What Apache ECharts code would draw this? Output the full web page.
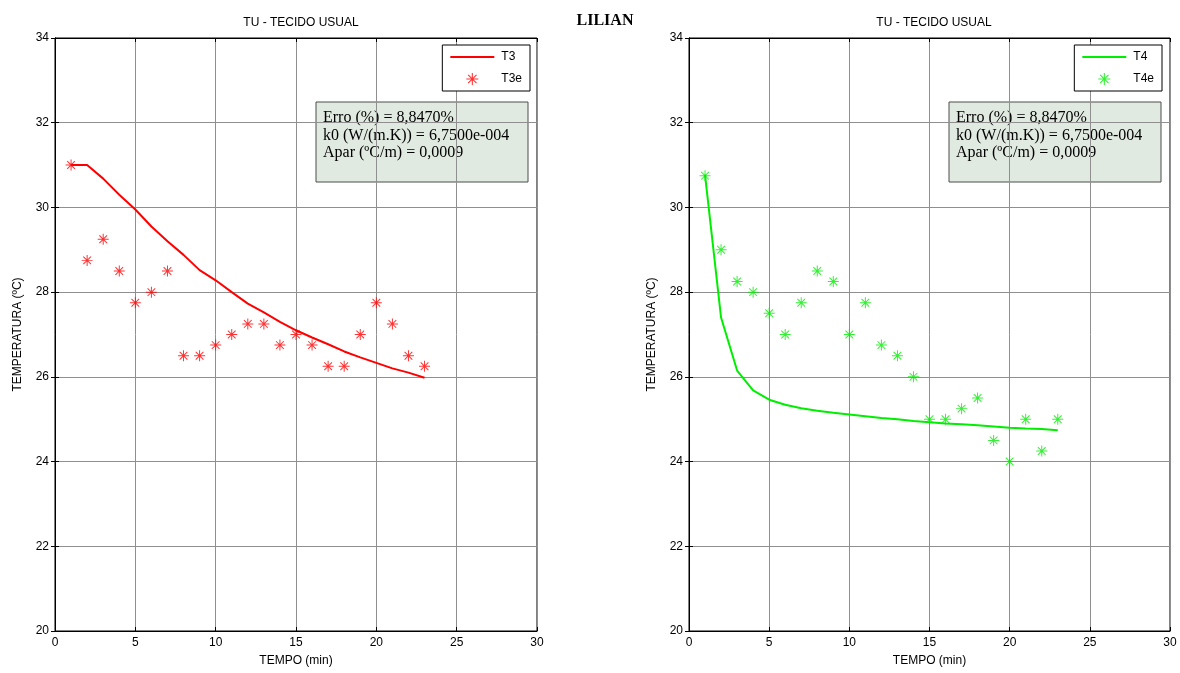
<!DOCTYPE html>
<html>
<head>
<meta charset="utf-8">
<title>LILIAN</title>
<script src="https://cdn.jsdelivr.net/npm/echarts@6/dist/echarts.min.js"></script>
<style>
html, body {
  margin: 0;
  padding: 0;
  background: #fff;
}
#chart {
  width: 1180px;
  height: 673px;
}
</style>
</head>
<body>
<div id="chart"></div>
<script>
// tempo (min)
var tempo = [1, 2, 3, 4, 5, 6, 7, 8, 9, 10, 11, 12, 13, 14, 15, 16, 17, 18, 19, 20, 21, 22, 23];

// esquerda - T3 (modelo) e T3e (experimental)
var t3 = [31.0, 31.0, 30.68, 30.3, 29.95, 29.55, 29.2, 28.88, 28.52, 28.28, 28.0, 27.73,
  27.52, 27.3, 27.1, 26.93, 26.77, 26.6, 26.46, 26.33, 26.2, 26.1, 25.98];
var t3e = [31.0, 28.75, 29.25, 28.5, 27.75, 28.0, 28.5, 26.5, 26.5, 26.75, 27.0, 27.25,
  27.25, 26.75, 27.0, 26.75, 26.25, 26.25, 27.0, 27.75, 27.25, 26.5, 26.25];

// direita - T4 (modelo) e T4e (experimental)
var t4 = [30.77, 27.4, 26.15, 25.68, 25.46, 25.34, 25.26, 25.2, 25.15, 25.11, 25.07, 25.03,
  25.0, 24.96, 24.93, 24.9, 24.88, 24.86, 24.83, 24.8, 24.78, 24.77, 24.74];
var t4e = [30.75, 29.0, 28.25, 28.0, 27.5, 27.0, 27.75, 28.5, 28.25, 27.0, 27.75, 26.75,
  26.5, 26.0, 25.0, 25.0, 25.25, 25.5, 24.5, 24.0, 25.0, 24.25, 25.0];

var infoLines = [
  'Erro (%) = 8,8470%',
  'k0 (W/(m.K)) = 6,7500e-004',
  'Apar (ºC/m) = 0,0009'
];

// asterisco (+ e x)
var asterisk = 'path://M-1,-0.09L1,-0.09L1,0.09L-1,0.09Z' +
  'M-0.09,-1L0.09,-1L0.09,1L-0.09,1Z' +
  'M-0.636,-0.764L0.764,0.636L0.636,0.764L-0.764,-0.636Z' +
  'M-0.764,0.636L0.636,-0.764L0.764,-0.636L-0.636,0.764Z';
// traço da legenda
var legendLine = 'path://M0,0L44,0L44,2L0,2Z';

function pairs (ys) {
  var out = [];
  for (var i = 0; i < tempo.length; i++) {
    out.push([tempo[i], ys[i]]);
  }
  return out;
}

var chart = echarts.init(document.getElementById('chart'));

var font = 'Liberation Sans, Arial, sans-serif';
var serif = 'Liberation Serif, Times New Roman, serif';

function mainX (gi) {
  return {
    type: 'value',
    gridIndex: gi,
    min: 0,
    max: 30,
    interval: 5,
    name: 'TEMPO (min)',
    nameLocation: 'middle',
    nameGap: 24,
    nameTextStyle: { color: '#000', fontFamily: font, fontSize: 12 },
    axisLine: { lineStyle: { color: '#000', width: 1 } },
    axisTick: { inside: true, length: 4, lineStyle: { color: '#000' } },
    axisLabel: { color: '#000', fontFamily: font, fontSize: 12, margin: 6 },
    splitLine: { show: true, lineStyle: { color: '#8f8f8f', width: 1 } }
  };
}
function mainY (gi) {
  return {
    type: 'value',
    gridIndex: gi,
    min: 20,
    max: 34,
    interval: 2,
    name: 'TEMPERATURA (ºC)',
    nameLocation: 'middle',
    nameGap: 31,
    nameTextStyle: { color: '#000', fontFamily: font, fontSize: 12 },
    axisLine: { show: true, lineStyle: { color: '#000', width: 1 } },
    axisTick: { show: true, inside: true, length: 4, lineStyle: { color: '#000' } },
    axisLabel: { color: '#000', fontFamily: font, fontSize: 12, margin: 6 },
    splitLine: { show: true, lineStyle: { color: '#8f8f8f', width: 1 } }
  };
}
function sideX (gi) {
  return {
    type: 'value', gridIndex: gi, position: 'top', min: 0, max: 30, interval: 5,
    axisLine: { lineStyle: { color: '#000' } },
    axisTick: { inside: true, length: 4, lineStyle: { color: '#000' } },
    axisLabel: { show: false },
    splitLine: { show: false }
  };
}
function sideY (gi) {
  return {
    type: 'value', gridIndex: gi, position: 'right', min: 20, max: 34, interval: 2,
    axisLine: { show: true, lineStyle: { color: '#000' } },
    axisTick: { show: true, inside: true, length: 4, lineStyle: { color: '#000' } },
    axisLabel: { show: false },
    splitLine: { show: false }
  };
}

function legendOf (lineName, dotName, right) {
  return {
    orient: 'vertical',
    right: right,
    top: 45,
    width: 89,
    padding: [6, 8, 6, 8],
    itemGap: 10,
    itemWidth: 44,
    itemHeight: 12,
    backgroundColor: '#fff',
    borderColor: '#000',
    borderWidth: 1,
    borderRadius: 0,
    textStyle: { color: '#000', fontFamily: font, fontSize: 12, padding: [0, 18, 0, 2] },
    data: [
      { name: lineName, icon: legendLine },
      { name: dotName, icon: asterisk }
    ]
  };
}

function infoBox (x, y) {
  var children = [{
    type: 'rect',
    shape: { x: 0, y: 0, width: 212, height: 80 },
    style: { fill: '#e1eae1', stroke: '#4d4d4d', lineWidth: 1 }
  }];
  for (var i = 0; i < infoLines.length; i++) {
    children.push({
      type: 'text',
      x: 7,
      y: 8 + i * 17.5,
      style: { text: infoLines[i], fill: '#000', font: '16px ' + serif }
    });
  }
  return { type: 'group', x: x, y: y, z: 100, children: children };
}

var option = {
  animation: false,
  backgroundColor: '#fff',
  title: [
    { text: 'TU - TECIDO USUAL', left: 296, top: 12, textAlign: 'center',
      textStyle: { fontFamily: font, fontSize: 12, fontWeight: 'normal', color: '#000' } },
    { text: 'TU - TECIDO USUAL', left: 929, top: 12, textAlign: 'center',
      textStyle: { fontFamily: font, fontSize: 12, fontWeight: 'normal', color: '#000' } },
    { text: 'LILIAN', left: 600, top: 8, textAlign: 'center',
      textStyle: { fontFamily: serif, fontSize: 16, fontWeight: 'bold', color: '#000' } }
  ],
  legend: [
    legendOf('T3', 'T3e', 650),
    legendOf('T4', 'T4e', 18)
  ],
  grid: [
    { left: 55, right: 643, top: 38, bottom: 42, show: true, borderColor: '#000', borderWidth: 1 },
    { left: 689, right: 10, top: 38, bottom: 42, show: true, borderColor: '#000', borderWidth: 1 }
  ],
  xAxis: [mainX(0), mainX(1), sideX(0), sideX(1)],
  yAxis: [mainY(0), mainY(1), sideY(0), sideY(1)],
  series: [
    {
      name: 'T3', type: 'line', xAxisIndex: 0, yAxisIndex: 0,
      data: pairs(t3), symbol: 'none', color: '#ff0000',
      lineStyle: { color: '#ff0000', width: 2 }
    },
    {
      name: 'T3e', type: 'scatter', xAxisIndex: 0, yAxisIndex: 0,
      data: pairs(t3e), symbol: asterisk, symbolSize: 11, color: '#ff0000',
      itemStyle: { color: '#ff0000' }
    },
    {
      name: 'T4', type: 'line', xAxisIndex: 1, yAxisIndex: 1,
      data: pairs(t4), symbol: 'none', color: '#00ee00',
      lineStyle: { color: '#00ee00', width: 2 }
    },
    {
      name: 'T4e', type: 'scatter', xAxisIndex: 1, yAxisIndex: 1,
      data: pairs(t4e), symbol: asterisk, symbolSize: 11, color: '#00ee00',
      itemStyle: { color: '#00ee00' }
    }
  ],
  graphic: [infoBox(316, 102), infoBox(949, 102)]
};

chart.setOption(option);
</script>
</body>
</html>
